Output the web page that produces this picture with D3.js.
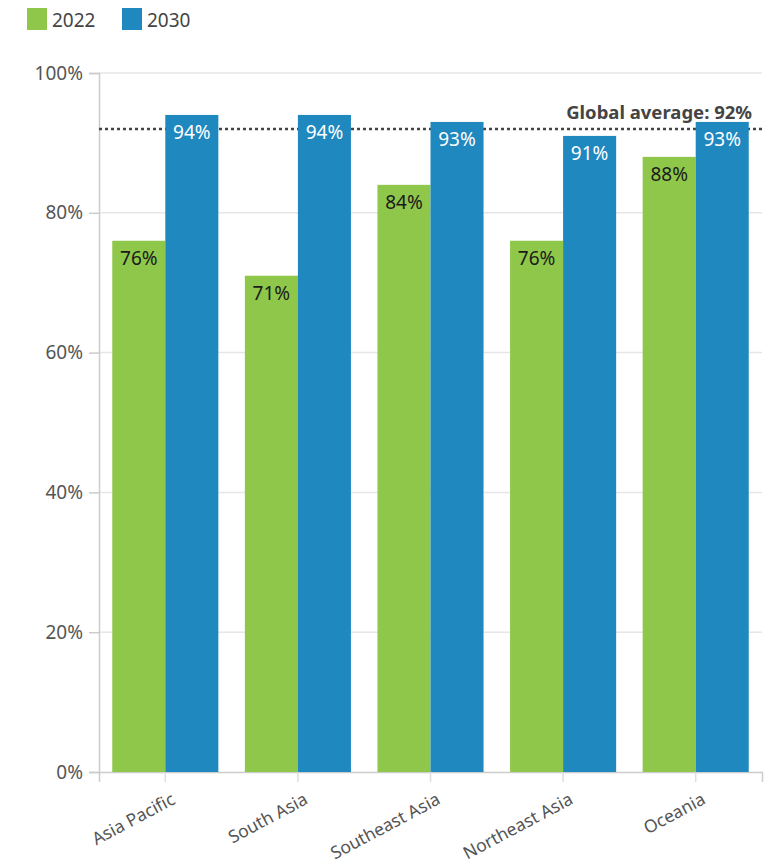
<!DOCTYPE html>
<html>
<head>
<meta charset="utf-8">
<script src="https://cdn.jsdelivr.net/npm/d3@7"></script>
<style>
    body { margin: 0; background: #fff; font-family: "Source Sans Pro", "Noto Sans", sans-serif; }
</style>
</head>
<body>
<div id="chart"></div>
<script>
// Chart data
const regions = ["Asia Pacific", "South Asia", "Southeast Asia", "Northeast Asia", "Oceania"];
const years = ["2022", "2030"];
const values2022 = [76, 71, 84, 76, 88];
const values2030 = [94, 94, 93, 91, 93];
const yTicks = [0, 20, 40, 60, 80, 100];
const globalAverage = 92;
const colors = ["#8fc74a", "#1f88bf"];

const width = 766, height = 867;
const margin = { top: 73, right: 4, bottom: 95, left: 99 };
const innerW = width - margin.left - margin.right,
    innerH = height - margin.top - margin.bottom;
const font = "'Source Sans Pro', 'Noto Sans', sans-serif";

const svg = d3.select("#chart")
    .append("svg")
    .attr("width", width)
    .attr("height", height);

// Legend
const legend = svg.append("g").attr("transform", "translate(27,8)");
years.forEach((y, i) => {
    const g = legend.append("g").attr("transform", "translate(" + (i * 95) + ",0)");
    g.append("rect").attr("width", 20).attr("height", 22).attr("fill", colors[i]);
    g.append("text")
        .attr("x", 25).attr("y", 18.5)
        .attr("font-size", 19).attr("fill", "#444")
        .text(y);
});

const chart = svg.append("g")
    .attr("transform", "translate(" + margin.left + "," + margin.top + ")");

const x = d3.scaleBand()
    .domain(regions)
    .range([0, innerW])
    .paddingInner(0.2)
    .paddingOuter(0.1);

const xSub = d3.scaleBand()
    .domain(years)
    .range([0, x.bandwidth()]);

const y = d3.scaleLinear()
    .domain([0, 100])
    .range([innerH, 0]);

// Gridlines
chart.append("g")
    .selectAll("line")
    .data(yTicks.filter(d => d > 0))
    .enter().append("line")
    .attr("x1", 0).attr("x2", innerW)
    .attr("y1", d => y(d)).attr("y2", d => y(d))
    .attr("stroke", "#e6e6e6")
    .attr("stroke-width", 1.5);

// Y axis
const yAxis = chart.append("g")
    .call(d3.axisLeft(y).tickValues(yTicks).tickFormat(d => d + "%").tickSize(10).tickPadding(6));
yAxis.select(".domain").attr("stroke", "#cccccc").attr("stroke-width", 1.5);
yAxis.selectAll(".tick line").attr("stroke", "#cccccc").attr("stroke-width", 1.5);
yAxis.selectAll("text")
    .attr("font-size", 19)
    .attr("font-family", font)
    .attr("fill", "#555");

// X axis
const xAxis = chart.append("g")
    .attr("transform", "translate(0," + innerH + ")")
    .call(d3.axisBottom(x).tickSize(10).tickPadding(4));
xAxis.select(".domain").attr("stroke", "#cccccc").attr("stroke-width", 1.5);
xAxis.selectAll(".tick line").attr("stroke", "#dddddd").attr("stroke-width", 1.5);
xAxis.selectAll("text")
    .attr("font-size", 17.5)
    .attr("font-family", font)
    .attr("fill", "#555")
    .attr("text-anchor", "end")
    .attr("dy", "0.3em")
    .attr("transform", "translate(2,14) rotate(-28)");

// Global average line
chart.append("line")
    .attr("x1", 0).attr("x2", innerW)
    .attr("y1", y(globalAverage)).attr("y2", y(globalAverage))
    .attr("stroke", "#444")
    .attr("stroke-width", 2.5)
    .attr("stroke-dasharray", "3,3");

chart.append("text")
    .attr("x", innerW - 10)
    .attr("y", y(globalAverage) - 10)
    .attr("text-anchor", "end")
    .attr("font-size", 18.5)
    .attr("font-weight", "bold")
    .attr("fill", "#444")
    .text("Global average: " + globalAverage + "%");

// Bars
const rows = regions.map((r, i) => ({ region: r, values: [values2022[i], values2030[i]] }));

const groups = chart.selectAll(".group")
    .data(rows)
    .enter().append("g")
    .attr("class", "group")
    .attr("transform", d => "translate(" + x(d.region) + ",0)");

const cells = groups.selectAll(".cell")
    .data(d => d.values.map((v, i) => ({ year: years[i], value: v, idx: i })))
    .enter().append("g");

cells.append("rect")
    .attr("x", d => xSub(d.year))
    .attr("width", xSub.bandwidth())
    .attr("y", d => y(d.value))
    .attr("height", d => innerH - y(d.value))
    .attr("fill", d => colors[d.idx]);

cells.append("text")
    .attr("x", d => xSub(d.year) + xSub.bandwidth() / 2)
    .attr("y", d => y(d.value) + 24)
    .attr("text-anchor", "middle")
    .attr("font-size", 19)
    .attr("fill", d => d.idx === 0 ? "#1a1a1a" : "#ffffff")
    .text(d => d.value + "%");
</script>
</body>
</html>
